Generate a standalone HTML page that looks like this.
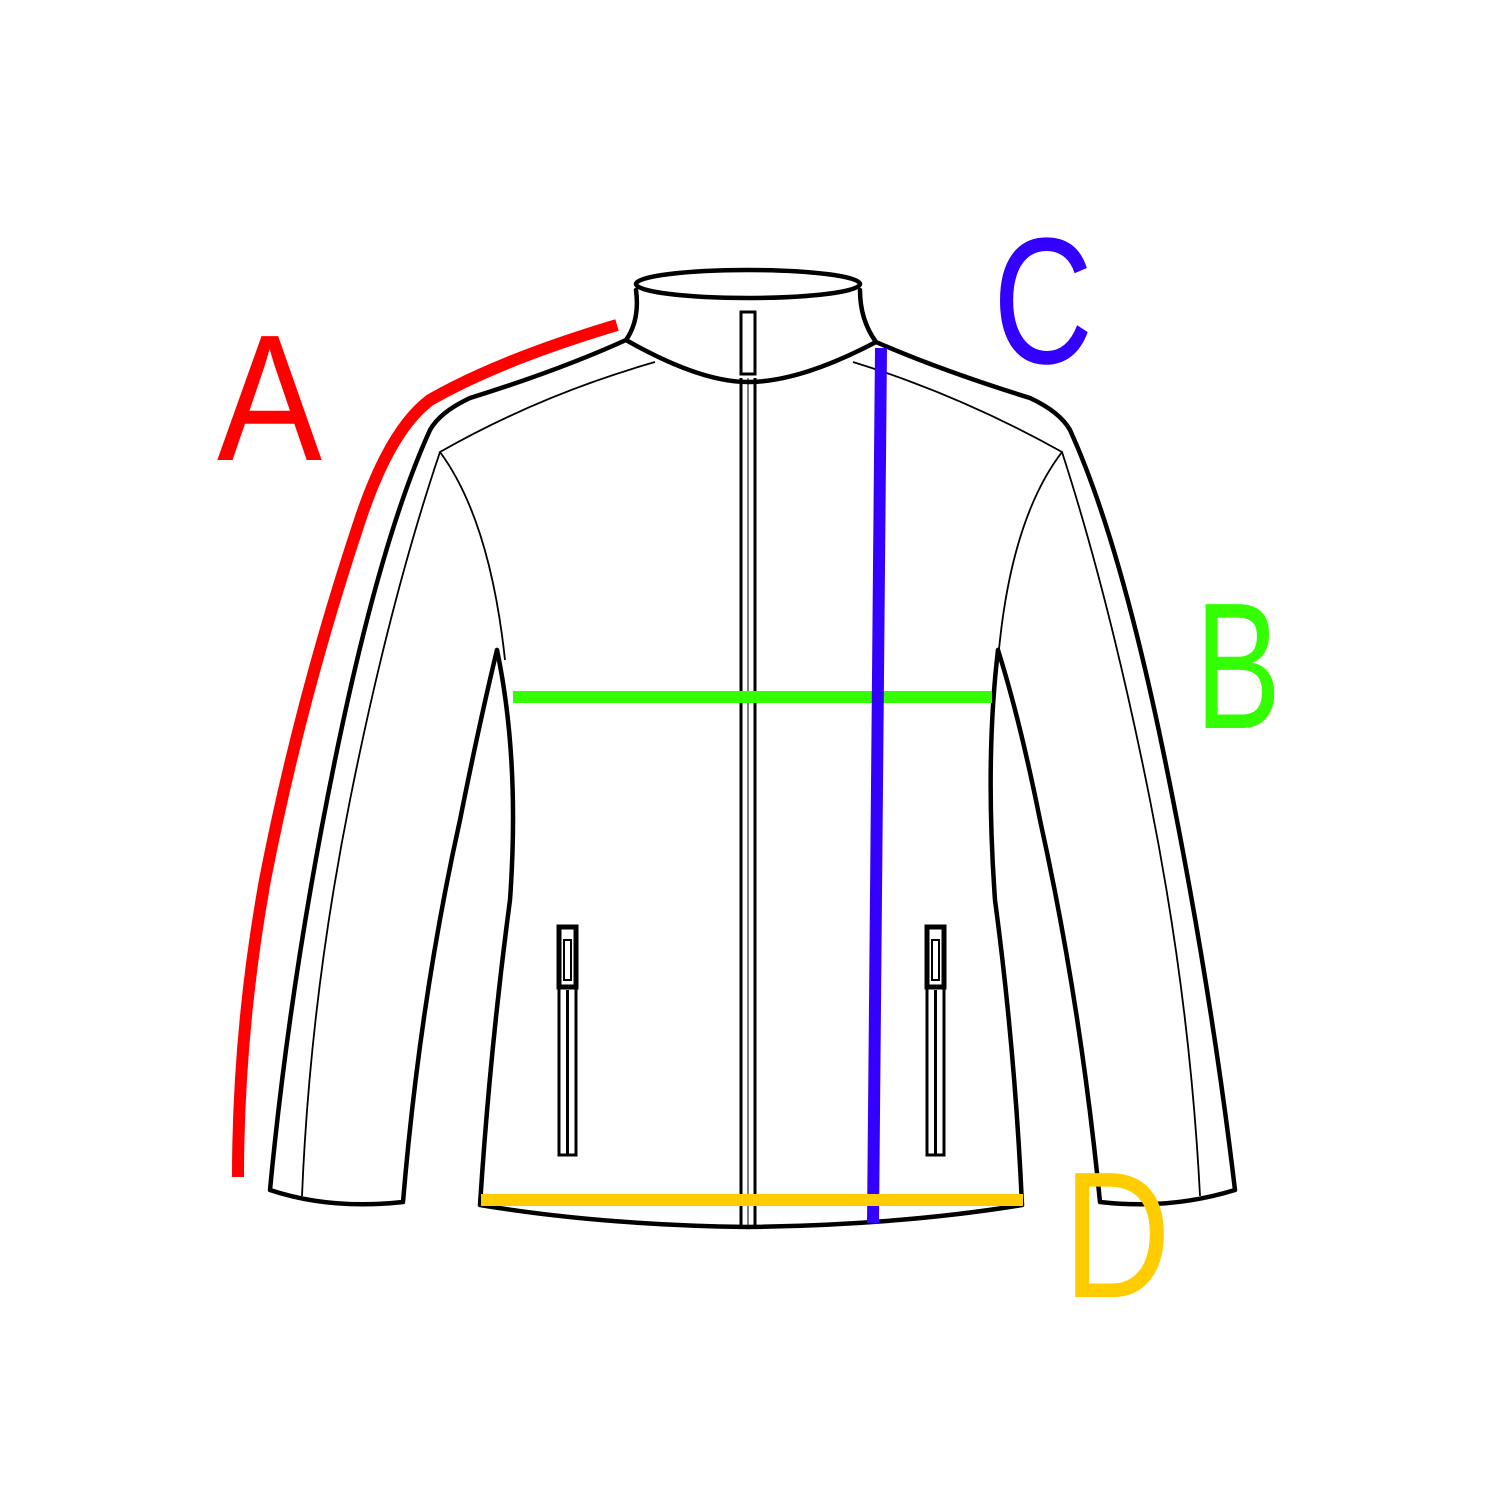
<!DOCTYPE html>
<html><head><style>body{margin:0;background:#fff}svg{display:block}</style></head><body>
<svg width="1500" height="1500" viewBox="0 0 1500 1500" xmlns="http://www.w3.org/2000/svg">
<rect width="1500" height="1500" fill="#fff"/>
<g fill="none" stroke="#000" stroke-width="4.5" stroke-linejoin="round" stroke-linecap="round">
<ellipse cx="748" cy="284" rx="112" ry="14"/>
<path d="M636,290 Q640,320 626,340 Q700,382 748,382 Q800,382 876,342 Q860,320 860,290"/>
<path d="M626,340 Q560,370 470,398 Q440,412 430,430 Q380,540 335,760 Q290,980 270,1190 Q330,1210 403,1202 Q420,1000 460,820 Q480,720 497,650"/>
<path d="M497,650 Q520,760 510,900 Q490,1050 480,1205 Q600,1225 748,1227 Q900,1225 1022,1205 Q1015,1050 995,900 Q985,760 998,650"/>
<path d="M876,342 Q940,370 1030,398 Q1060,412 1070,430 Q1120,540 1165,760 Q1210,980 1235,1190 Q1170,1210 1100,1202 Q1080,1000 1040,820 Q1020,720 998,650"/>
</g>
<g fill="none" stroke="#000" stroke-width="1.8">
<path d="M655,362 Q540,395 440,452 Q490,520 505,660"/>
<path d="M440,452 Q390,600 350,800 Q310,1000 302,1196"/>
<path d="M853,362 Q960,395 1062,452 Q1010,520 998,660"/>
<path d="M1062,452 Q1110,600 1150,800 Q1190,1000 1200,1196"/>
<rect x="741" y="312" width="14" height="62" stroke-width="3"/>
<line x1="741" y1="378" x2="741" y2="1226" stroke-width="3"/>
<line x1="755" y1="378" x2="755" y2="1226" stroke-width="3"/>
<line x1="748" y1="378" x2="748" y2="1226" stroke-width="1"/>
</g>
<g stroke="#000" fill="#fff">
<rect x="559" y="927" width="17" height="228" stroke-width="3"/>
<rect x="564" y="940" width="7" height="40" fill="#fff" stroke-width="2"/>
<rect x="559" y="927" width="17" height="60" fill="none" stroke-width="5"/>
<line x1="567.5" y1="990" x2="567.5" y2="1155" stroke-width="3"/>
<rect x="927" y="927" width="17" height="228" stroke-width="3"/>
<rect x="932" y="940" width="7" height="40" fill="#fff" stroke-width="2"/>
<rect x="927" y="927" width="17" height="60" fill="none" stroke-width="5"/>
<line x1="935.5" y1="990" x2="935.5" y2="1155" stroke-width="3"/>
</g>
<g fill="none" stroke-width="12">
<path d="M617,325 Q500,360 430,400 Q390,430 360,520 Q300,700 265,880 Q238,1030 238,1177" stroke="#f00"/>
<line x1="513" y1="697" x2="992" y2="697" stroke="#33ff00"/>
<line x1="881" y1="348" x2="873" y2="1223" stroke="#3300ff"/>
<line x1="481" y1="1200" x2="1023" y2="1200" stroke="#ffcc00"/>
</g>
<g font-family="Liberation Sans, sans-serif" font-size="180">
<text x="217" y="460" fill="#f00" textLength="105" lengthAdjust="spacingAndGlyphs">A</text>
<text x="1195" y="728" fill="#33ff00" textLength="86" lengthAdjust="spacingAndGlyphs">B</text>
<text x="993" y="363" fill="#3300ff" textLength="100" lengthAdjust="spacingAndGlyphs">C</text>
<text x="1063" y="1297" fill="#ffcc00" textLength="108" lengthAdjust="spacingAndGlyphs">D</text>
</g>
</svg>
</body></html>
